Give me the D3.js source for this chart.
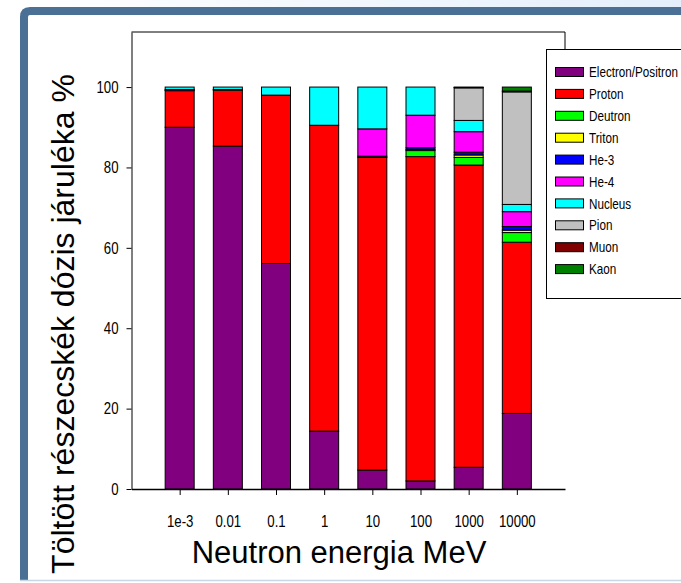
<!DOCTYPE html>
<html>
<head>
<meta charset="utf-8">
<script src="https://cdn.jsdelivr.net/npm/d3@7"></script>
<style>
  body { margin: 0; background: #fff; }
  svg { display: block; }
</style>
</head>
<body>
<div id="chart"></div>
<script>
// Energies (MeV) on the x axis
const energies = ["1e-3", "0.01", "0.1", "1", "10", "100", "1000", "10000"];

// Particle types, bottom to top of each stacked bar
const particles = ["Electron/Positron", "Proton", "Deutron", "Triton", "He-3", "He-4", "Nucleus", "Pion", "Muon", "Kaon"];
const particleColors = ["#800080", "#ff0000", "#00ff00", "#ffff00", "#0000ff", "#ff00ff", "#00ffff", "#c0c0c0", "#800000", "#008000"];

// Dose contribution (%) per particle, one value per energy
const electron = [90.0, 85.3, 56.1, 14.4, 4.7, 2.0, 5.4, 18.8];
const proton   = [9.1, 13.9, 41.9, 76.1, 77.8, 80.7, 75.2, 42.6];
const deutron  = [0.1, 0.1, 0, 0, 0.3, 1.5, 1.9, 2.4];
const triton   = [0, 0, 0, 0, 0, 0.3, 0.6, 0.6];
const he3      = [0, 0, 0, 0, 0, 0.4, 0.7, 0.9];
const he4      = [0.2, 0.1, 0, 0, 6.8, 8.1, 5.1, 3.7];
const nucleus  = [0.6, 0.6, 2.0, 9.5, 10.4, 7.0, 2.8, 1.8];
const pion     = [0, 0, 0, 0, 0, 0, 8.1, 28.0];
const muon     = [0, 0, 0, 0, 0, 0, 0.1, 0.2];
const kaon     = [0, 0, 0, 0, 0, 0, 0.1, 1.0];

const yTicks = [0, 20, 40, 60, 80, 100];

const seriesValues = [electron, proton, deutron, triton, he3, he4, nucleus, pion, muon, kaon];

// Build table rows for d3.stack
const rows = energies.map((e, i) => {
  const row = { energy: e };
  particles.forEach((p, k) => { row[p] = seriesValues[k][i]; });
  return row;
});

const W = 681, H = 583;
const plot = { left: 131.5, right: 565, top: 32, bottom: 489 };
const font = "'Liberation Sans', Arial, sans-serif";
const squeeze = 0.8; // the original uses a condensed face

const svg = d3.select("#chart").append("svg")
  .attr("width", W)
  .attr("height", H);

// Slide-like frame: light gradient on top, blue band top and left
const defs = svg.append("defs");
const grad = defs.append("linearGradient").attr("id", "topGrad")
  .attr("x1", "0%").attr("x2", "100%").attr("y1", "0%").attr("y2", "0%");
grad.append("stop").attr("offset", "0%").attr("stop-color", "#ffffff");
grad.append("stop").attr("offset", "100%").attr("stop-color", "#e4effb");

svg.append("rect").attr("x", 0).attr("y", 0).attr("width", W).attr("height", 25)
  .attr("fill", "url(#topGrad)");
svg.append("rect").attr("x", 28).attr("y", 15).attr("width", W - 28).attr("height", 570)
  .attr("fill", "#fff");
svg.append("path")
  .attr("d", `M24,${H - 3} L24,17 Q24,11 30,11 L${W},11`)
  .attr("fill", "none")
  .attr("stroke", "#4b7096")
  .attr("stroke-width", 8);
svg.append("line")
  .attr("x1", 20).attr("x2", W).attr("y1", 580.5).attr("y2", 580.5)
  .attr("stroke", "#c9d6e3").attr("stroke-width", 1.5);

// Scales
const x = d3.scalePoint().domain(energies).range([plot.left, plot.right]).padding(1);
const y = d3.scaleLinear().domain([0, 113.7]).range([plot.bottom, plot.top]);
const color = d3.scaleOrdinal().domain(particles).range(particleColors);
const barWidth = 29;

// Stacked bars
const stacked = d3.stack().keys(particles)(rows);

svg.append("g")
  .selectAll("g")
  .data(stacked)
  .join("g")
  .attr("fill", (d) => color(d.key))
  .selectAll("rect")
  .data((d) => d.filter((s) => s[1] - s[0] > 0))
  .join("rect")
  .attr("x", (d) => x(d.data.energy) - barWidth / 2)
  .attr("y", (d) => y(d[1]))
  .attr("width", barWidth)
  .attr("height", (d) => y(d[0]) - y(d[1]))
  .attr("stroke", "#000")
  .attr("stroke-width", 1);

// Plot frame (top and short right piece)
svg.append("path")
  .attr("d", `M${plot.left},${plot.top} L${plot.right},${plot.top} L${plot.right},49`)
  .attr("fill", "none")
  .attr("stroke", "#000")
  .attr("stroke-width", 1);

// Y axis
const yAxis = svg.append("g")
  .attr("transform", `translate(${plot.left},0)`)
  .call(d3.axisLeft(y).tickValues(yTicks).tickSize(5).tickSizeOuter(0).tickPadding(8));
yAxis.selectAll("text")
  .attr("x", -13 / squeeze)
  .attr("transform", `scale(${squeeze},1)`)
  .attr("font-family", font)
  .attr("font-size", 16.5)
  .attr("fill", "#000");

// X axis
const xAxis = svg.append("g")
  .attr("transform", `translate(0,${plot.bottom})`)
  .call(d3.axisBottom(x).tickSize(6).tickSizeOuter(0).tickPadding(20));
xAxis.selectAll("text")
  .attr("transform", `scale(${squeeze},1)`)
  .attr("font-family", font)
  .attr("font-size", 16.5)
  .attr("fill", "#000");
xAxis.select(".domain").attr("stroke-width", 1.5);

// Axis titles
svg.append("text")
  .attr("transform", "translate(74,324) rotate(-90)")
  .attr("text-anchor", "middle")
  .attr("font-family", font)
  .attr("font-size", 32)
  .text("Töltött részecskék dózis járuléka %");

svg.append("text")
  .attr("x", 339)
  .attr("y", 563)
  .attr("text-anchor", "middle")
  .attr("font-family", font)
  .attr("font-size", 31)
  .text("Neutron energia MeV");

// Legend
const legend = svg.append("g").attr("transform", "translate(546,49)");
legend.append("rect")
  .attr("x", 0.5).attr("y", 0.5)
  .attr("width", 160).attr("height", 249)
  .attr("fill", "#fff")
  .attr("stroke", "#000");

const item = legend.selectAll(".item")
  .data(particles)
  .join("g")
  .attr("class", "item")
  .attr("transform", (d, i) => `translate(0,${23 + i * 21.9})`);

item.append("rect")
  .attr("x", 9.5).attr("y", -4.5)
  .attr("width", 28).attr("height", 9)
  .attr("fill", (d) => color(d))
  .attr("stroke", "#000");

item.append("text")
  .attr("transform", `translate(43,0) scale(${squeeze},1)`)
  .attr("dy", "0.35em")
  .attr("font-family", font)
  .attr("font-size", 14.6)
  .text((d) => d);
</script>
</body>
</html>
